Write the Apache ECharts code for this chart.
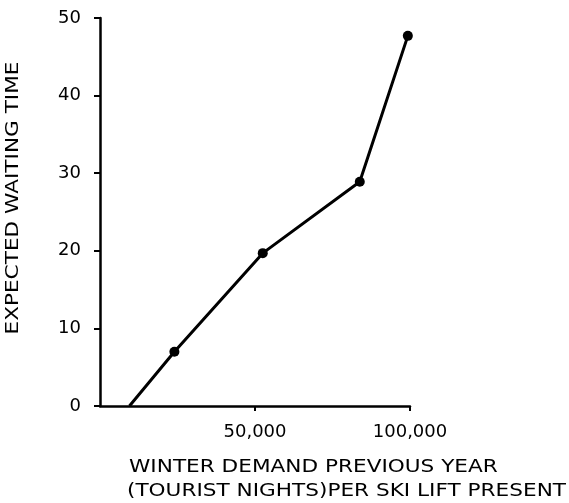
<!DOCTYPE html>
<html>
<head>
<meta charset="utf-8">
<script src="https://cdn.jsdelivr.net/npm/echarts@6/dist/echarts.min.js"></script>
<style>
  html, body { margin: 0; padding: 0; background: #fff; }
  #chart { width: 569px; height: 503px; }
</style>
</head>
<body>
<div id="chart"></div>
<script>
// winter demand (tourist nights per ski lift) vs expected waiting time
var demand = [9500, 24000, 52500, 83800, 99300];
var waiting = [0, 7, 19.7, 28.9, 47.7];
var xTicks = [0, 50000, 100000];
var yTicks = [0, 10, 20, 30, 40, 50];

var chartDom = document.getElementById('chart');
var myChart = echarts.init(chartDom);
var font = 'DejaVu Sans';

var points = demand.map(function (d, i) {
    var p = { value: [d, waiting[i]] };
    if (i === 0) p.symbol = 'none'; // line starts on the axis, no dot
    return p;
});

var option = {
    animation: false,
    grid: { left: 100, right: 159, top: 18, bottom: 97, outerBoundsMode: 'none', containLabel: false },
    xAxis: {
        type: 'value',
        min: xTicks[0],
        max: xTicks[xTicks.length - 1],
        interval: 50000,
        splitLine: { show: false },
        axisLine: { lineStyle: { color: '#000', width: 2.5 } },
        axisTick: { length: 5, lineStyle: { color: '#000', width: 2 } },
        axisLabel: {
            showMinLabel: false,
            margin: 17,
            color: '#000',
            fontFamily: font,
            fontSize: 18,
            formatter: function (v) { return v.toLocaleString('en-US'); }
        }
    },
    yAxis: {
        type: 'value',
        min: yTicks[0],
        max: yTicks[yTicks.length - 1],
        interval: 10,
        splitLine: { show: false },
        axisLine: { show: true, lineStyle: { color: '#000', width: 2.5 } },
        axisTick: { show: true, length: 6, lineStyle: { color: '#000', width: 2 } },
        axisLabel: { margin: 19, color: '#000', fontFamily: font, fontSize: 18 }
    },
    graphic: [
        {
            type: 'text', x: 13, y: 198, rotation: Math.PI / 2, scaleX: 1.2,
            style: {
                text: 'EXPECTED WAITING TIME', font: '18px ' + font, fill: '#000',
                align: 'center', verticalAlign: 'middle'
            }
        },
        {
            type: 'text', x: 129, y: 467, scaleX: 1.2,
            style: { text: 'WINTER DEMAND PREVIOUS YEAR', font: '18px ' + font, fill: '#000', verticalAlign: 'middle' }
        },
        {
            type: 'text', x: 127, y: 491, scaleX: 1.2,
            style: { text: '(TOURIST NIGHTS)PER SKI LIFT PRESENT', font: '18px ' + font, fill: '#000', verticalAlign: 'middle' }
        }
    ],
    series: [{
        type: 'line',
        data: points,
        symbol: 'circle',
        symbolSize: 10,
        lineStyle: { color: '#000', width: 3 },
        itemStyle: { color: '#000' }
    }]
};
myChart.setOption(option);
</script>
</body>
</html>
